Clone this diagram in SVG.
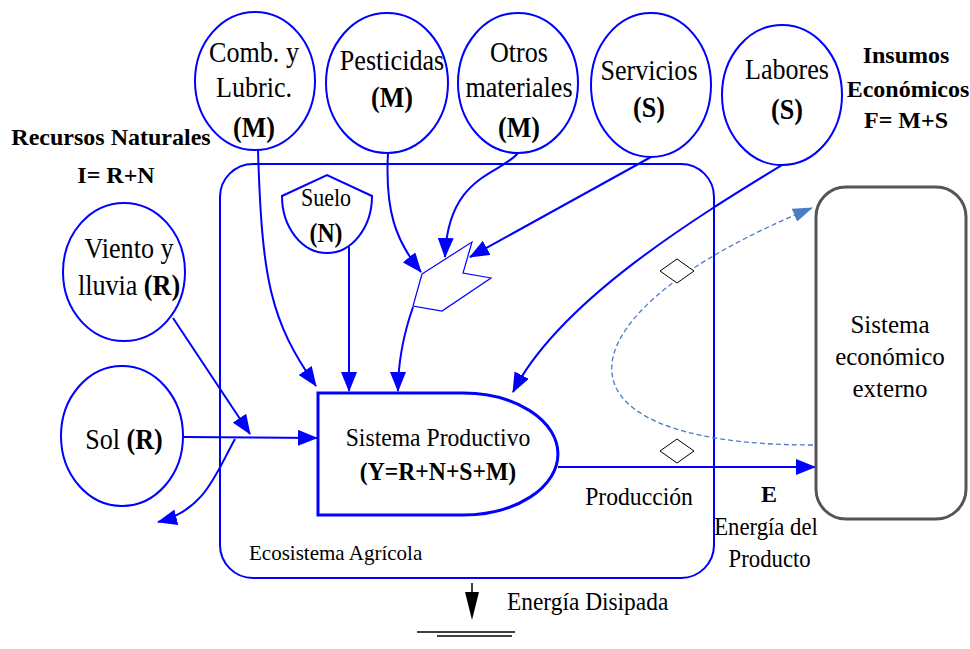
<svg xmlns="http://www.w3.org/2000/svg" width="970" height="649" viewBox="0 0 970 649">
<defs>
<style>
.bl{fill:none;stroke:#0000ff;stroke-width:2}
.thin{fill:#fff;stroke:#0000ff;stroke-width:1.2}
.node{fill:#fff;stroke:#0000ff;stroke-width:2}
.t{font-family:"Liberation Serif","Times New Roman",serif;fill:#000;text-anchor:middle}
.lb{font-size:29px}
.m{font-size:24px}
.m2{font-size:26px}
.b{font-weight:bold}
.st{text-anchor:start}
</style>
<marker id="ah" viewBox="0 0 20 16" refX="19" refY="8" markerWidth="20" markerHeight="16" markerUnits="userSpaceOnUse" orient="auto"><path d="M0,0 L20,8 L0,16 z" fill="#0000ff"/></marker>
<marker id="ahd" viewBox="0 0 20 14" refX="19" refY="7" markerWidth="20" markerHeight="14" markerUnits="userSpaceOnUse" orient="auto"><path d="M0,0 L20,7 L0,14 z" fill="#4a7dc4"/></marker>
</defs>
<rect width="970" height="649" fill="#fff"/>

<g id="ecosistema">
<rect x="220" y="164" width="494" height="414" rx="33" class="bl"/>
<text class="t st" x="249" y="560" font-size="21">Ecosistema Agrícola</text>
</g>

<g id="connectors">
<path class="bl" d="M258,150 C262,280 270,320 316,386" marker-end="url(#ah)"/>
<path class="bl" d="M349,247 L349,391" marker-end="url(#ah)"/>
<path class="bl" d="M388,153 C385,210 395,240 421,272" marker-end="url(#ah)"/>
<path class="bl" d="M518,153 C500,175 448,175 445,257" marker-end="url(#ah)"/>
<path class="bl" d="M651,157 L470,257" marker-end="url(#ah)"/>
<path class="bl" d="M782,165 C700,215 560,300 513,392" marker-end="url(#ah)"/>
<path class="bl" d="M413,307 C405,330 398,360 398,391" marker-end="url(#ah)"/>
<path class="bl" d="M173,318 L250,434" marker-end="url(#ah)"/>
<path class="bl" d="M183,437 L317,438" marker-end="url(#ah)"/>
<path class="bl" d="M235,439 C215,475 205,510 158,522" marker-end="url(#ah)"/>
<path class="bl" d="M558,467 L815,467" marker-end="url(#ah)"/>
<path d="M813,445 C530,445 560,310 812,208" fill="none" stroke="#4a7dc4" stroke-width="1.3" stroke-dasharray="5,3" marker-end="url(#ahd)"/>
<polygon points="660,271 677,259 694,271 677,283" fill="#fff" stroke="#000" stroke-width="1"/>
<polygon points="660,451 677,439 694,451 677,463" fill="#fff" stroke="#000" stroke-width="1"/>
</g>

<g id="insumo-shape">
<polygon class="thin" points="422,274 472,242 463,273 491,278 442,311 413,306"/>
</g>

<g id="comb">
<ellipse class="node" cx="255" cy="81" rx="60" ry="69"/>
<g transform="translate(254 0) scale(0.9 1)">
<text class="t lb" x="0" y="62">Comb. y</text>
<text class="t lb" x="0" y="97">Lubric.</text>
<text class="t lb b" x="0" y="137">(M)</text>
</g>
</g>

<g id="pesticidas">
<ellipse class="node" cx="387" cy="83" rx="61" ry="70"/>
<g transform="translate(392 0) scale(0.9 1)">
<text class="t lb" x="0" y="70">Pesticidas</text>
<text class="t lb b" x="0" y="107">(M)</text>
</g>
</g>

<g id="otros">
<ellipse class="node" cx="518" cy="83" rx="60" ry="70"/>
<g transform="translate(519 0) scale(0.9 1)">
<text class="t lb" x="0" y="62">Otros</text>
<text class="t lb" x="0" y="97">materiales</text>
<text class="t lb b" x="0" y="137">(M)</text>
</g>
</g>

<g id="servicios">
<ellipse class="node" cx="651" cy="85" rx="60" ry="72"/>
<g transform="translate(649 0) scale(0.9 1)">
<text class="t lb" x="0" y="80">Servicios</text>
<text class="t lb b" x="0" y="117">(S)</text>
</g>
</g>

<g id="labores">
<ellipse class="node" cx="782" cy="95" rx="60" ry="70"/>
<g transform="translate(787 0) scale(0.9 1)">
<text class="t lb" x="0" y="79">Labores</text>
<text class="t lb b" x="0" y="119">(S)</text>
</g>
</g>

<g id="viento">
<ellipse class="node" cx="124" cy="272" rx="61" ry="69"/>
<g transform="translate(129 0) scale(0.9 1)">
<text class="t lb" x="0" y="258">Viento y</text>
<text class="t lb" x="0" y="295">lluvia <tspan class="b">(R)</tspan></text>
</g>
</g>

<g id="sol">
<ellipse class="node" cx="122" cy="436" rx="61" ry="70"/>
<g transform="translate(124 0) scale(0.9 1)">
<text class="t lb" x="0" y="449">Sol <tspan class="b">(R)</tspan></text>
</g>
</g>

<g id="suelo">
<path class="node" d="M282,196 L327,175 L372,196 A45,57 0 0 1 282,196 Z"/>
<g transform="translate(326 0) scale(0.88 1)">
<text class="t" font-size="25" x="0" y="206">Suelo</text>
<text class="t b" font-size="27" x="0" y="242">(N)</text>
</g>
</g>

<g id="sistema-productivo">
<path d="M318,393 H463 A95,61 0 0 1 463,515 H318 Z" fill="#fff" stroke="#0000ff" stroke-width="3"/>
<g transform="translate(438 0) scale(0.91 1)">
<text class="t m2" x="0" y="446">Sistema Productivo</text>
<text class="t m2 b" x="0" y="480">(Y=R+N+S+M)</text>
</g>
</g>

<g id="sistema-economico">
<rect x="816" y="187" width="150" height="332" rx="30" fill="#fff" stroke="#555" stroke-width="3"/>
<text class="t" font-size="25" x="890" y="333">Sistema</text>
<text class="t" font-size="25" x="890" y="365">económico</text>
<text class="t" font-size="25" x="890" y="397">externo</text>
</g>

<g id="recursos-naturales">
<text class="t m b" x="111" y="145">Recursos Naturales</text>
<text class="t m b" x="116" y="183">I= R+N</text>
</g>

<g id="insumos-economicos">
<text class="t m b" x="906" y="63">Insumos</text>
<text class="t m b" x="908" y="97">Económicos</text>
<text class="t m b" x="906" y="128">F= M+S</text>
</g>

<g id="produccion">
<g transform="translate(639 0) scale(0.91 1)">
<text class="t m2" x="0" y="505">Producción</text>
</g>
<text class="t m b" x="769" y="502">E</text>
<g transform="translate(766 0) scale(0.91 1)">
<text class="t" font-size="25" x="0" y="535">Energía del</text>
<text class="t" font-size="25" x="4" y="567">Producto</text>
</g>
</g>

<g id="energia-disipada">
<line x1="472" y1="583" x2="472" y2="594" stroke="#000" stroke-width="1.5"/>
<polygon points="465,592 479,592 472,620" fill="#000"/>
<line x1="417" y1="632" x2="515" y2="632" stroke="#000" stroke-width="1.5"/>
<line x1="437" y1="636" x2="512" y2="636" stroke="#000" stroke-width="1.5"/>
<g transform="translate(507 0) scale(0.9 1)">
<text class="t st m2" x="0" y="610">Energía Disipada</text>
</g>
</g>
</svg>
